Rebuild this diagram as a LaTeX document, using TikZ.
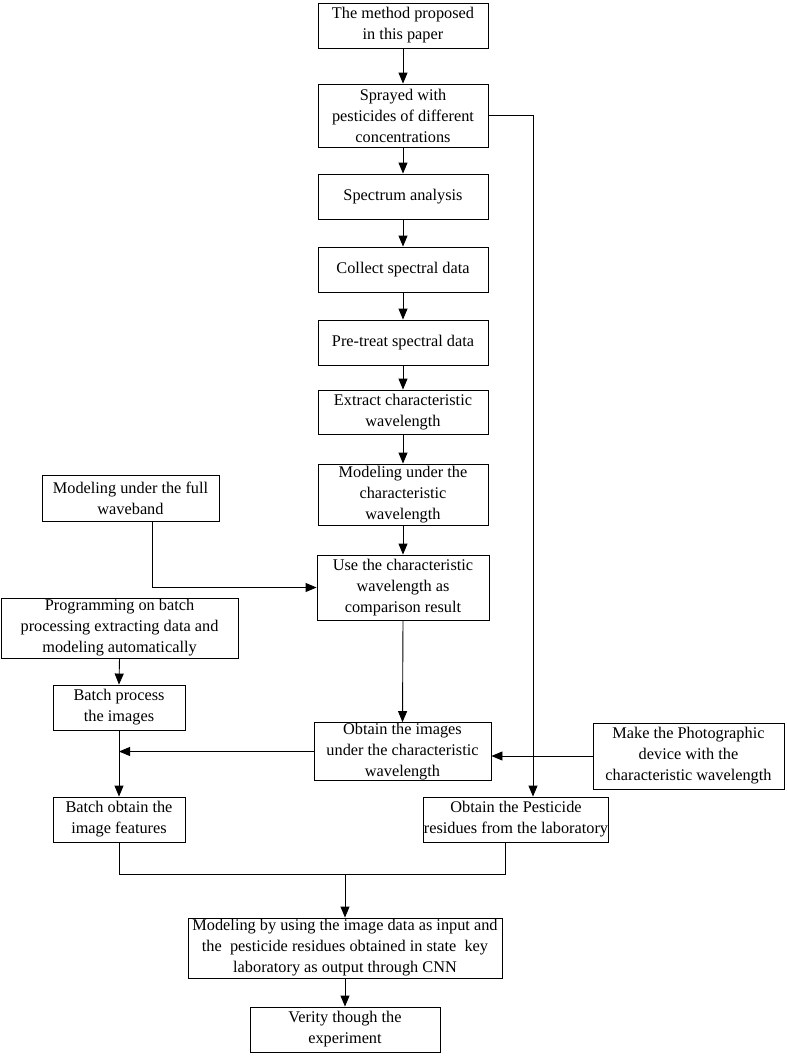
\documentclass[tikz,border=0pt]{standalone}
\usepackage{fontspec}
\setmainfont{Liberation Serif}
\usetikzlibrary{arrows.meta,calc}
\begin{document}
\begin{tikzpicture}[x=1pt,y=-1pt,
  box/.style={draw,line width=0.9pt,rectangle,inner sep=0.5pt,align=center,
    font=\fontsize{16.3}{21}\selectfont},
  arr/.style={line width=0.9pt,-{Triangle[length=11pt,width=9pt]}},
  ln/.style={line width=0.9pt}]
\useasboundingbox (0,0) rectangle (787,1058);
\def\bx(#1,#2,#3,#4,#5)#6{\node[box,minimum width=#3pt,minimum height=#4pt] (#5) at (#1,#2) {#6};}
\bx(403,25.5,170,45,n1){The method proposed\\in this paper}
\bx(403,115.5,170,63,n2){Sprayed with\\pesticides of different\\concentrations}
\bx(403,196.5,170,45,n3){Spectrum analysis}
\bx(403,269.5,170,45,n4){Collect spectral data}
\bx(403,342.5,170,45,n5){Pre-treat spectral data}
\bx(403,412,170,44,n6){Extract characteristic\\wavelength}
\bx(403,494.5,170,61,n7){Modeling under the\\characteristic\\wavelength}
\bx(403,587.5,172,65,n8){Use the characteristic\\wavelength as\\comparison result}
\bx(130.5,498,177,46,full){Modeling under the full\\waveband}
\bx(119.5,628,237,60,prog){Programming on batch\\processing extracting data and\\modeling automatically}
\bx(119,707.5,132,45,bproc){Batch process\\the images}
\bx(402.5,751.5,177,55,obtimg){Obtain the images\\under the characteristic\\wavelength}
\bx(688.5,756,191,66,photo){Make the Photographic\\device with the\\characteristic wavelength}
\bx(119,819.5,132,45,bobt){Batch obtain the\\image features}
\bx(516,819.5,172,45,pest){Obtain the Pesticide\\residues from the laboratory}
\bx(345,948,314,60,model){Modeling by using the image data as input and\\the\ \ pesticide residues obtained in state\ \ key\\laboratory as output through CNN}
\bx(345,1029.5,190,45,ver){Verity though the\\experiment}
\foreach \a/\b in {n1/n2,n2/n3,n3/n4,n4/n5,n5/n6,n6/n7,n7/n8}
  \draw[arr] (\a.south) -- (\b.north);
\draw[arr] (n2.east) -| ([xshift=17pt]pest.north);
\draw[arr] ([xshift=21.5pt]full.south) |- (n8.west);
\draw[arr] (prog.south) -- (bproc.north);
\draw[arr] (bproc.south) -- (bobt.north);
\draw[arr] (obtimg.west) -- (obtimg.west -| bproc.south);
\draw[arr] (photo.west) -- (photo.west -| obtimg.east);
\draw[arr] (n8.south) -- (obtimg.north);
\coordinate (jn) at (model.north |- 0,874);
\draw[ln] (bobt.south) |- (jn) -| ([xshift=-11pt]pest.south);
\draw[arr] (jn) -- (model.north);
\draw[arr] (model.south) -- (ver.north);
\end{tikzpicture}
\end{document}
